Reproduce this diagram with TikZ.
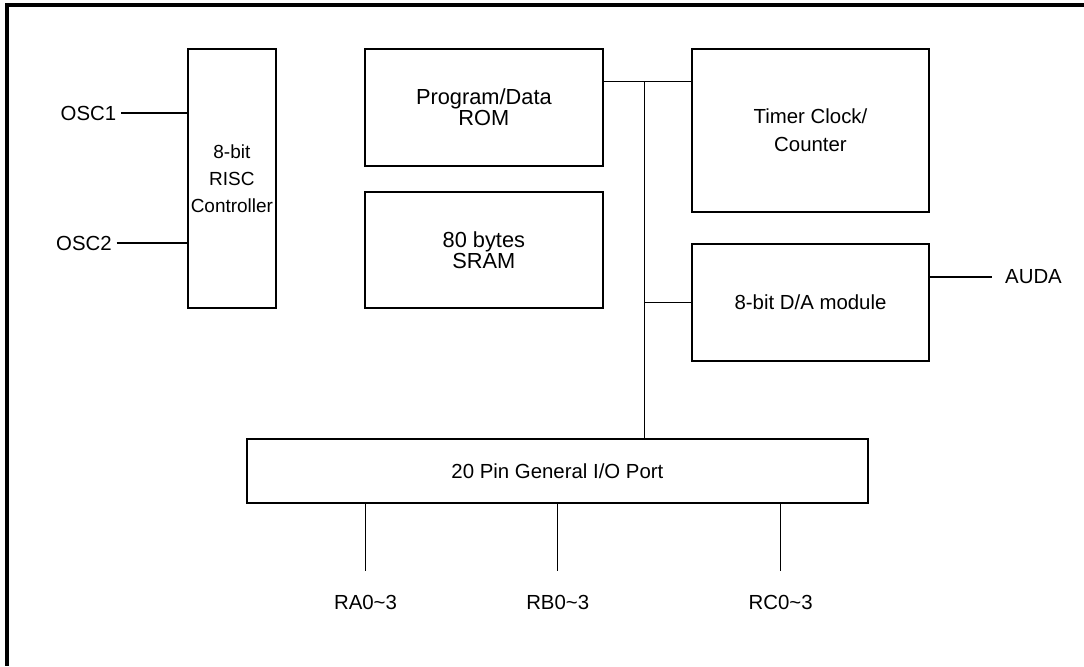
\documentclass[tikz,border=0pt]{standalone}
\usepackage{fontspec}
\setmainfont{Liberation Sans}

\begin{document}
\begin{tikzpicture}[x=0.025cm, y=-0.025cm,
  every node/.style={font=\fontsize{14.5}{14}\selectfont},
  blk/.style={draw, line width=1.5pt, align=center, inner sep=0pt},
  wire/.style={line width=1.1pt}]
  \useasboundingbox (0,0) rectangle (1084,666);
  \draw[line width=2.2pt] (1084,5) -- (7,5) -- (7,666);
  % blocks
  \node[blk, minimum width=2.21cm, minimum height=6.48cm, font=\fontsize{13.5}{19.5}\selectfont] (risc) at (231.9,178.7) {8-bit\\RISC\\Controller};
  \node[blk, minimum width=5.94cm, minimum height=2.92cm, font=\fontsize{15.5}{13.5}\selectfont] (rom) at (483.9,107.5) {Program/Data\\ROM};
  \node[blk, minimum width=5.94cm, minimum height=2.92cm, font=\fontsize{15.5}{13.5}\selectfont] (sram) at (483.9,250) {80 bytes\\SRAM};
  \node[blk, minimum width=5.94cm, minimum height=4.07cm, font=\fontsize{14.5}{20}\selectfont] (timer) at (810.5,130.4) {Timer Clock/\\Counter};
  \node[blk, minimum width=5.94cm, minimum height=2.93cm] (dac) at (810.5,302.4) {8-bit D/A module};
  \node[blk, minimum width=15.53cm, minimum height=1.61cm] (io) at (557.4,471.2) {20 Pin General I/O Port};
  % pins
  \node (osc1) at (88.5,113) {OSC1};
  \node (osc2) at (84,243) {OSC2};
  \node (auda) at (1033.5,277) {AUDA};
  \coordinate (bus) at (644.3,81.5);
  \draw[wire] (osc1) -- (osc1 -| risc.west);
  \draw[wire] (osc2) -- (osc2 -| risc.west);
  \draw[wire] (rom.east |- bus) -- (timer.west |- bus);
  \draw[wire] (bus) -- (bus |- io.north);
  \draw[wire] (bus |- dac.west) -- (dac.west);
  \draw[wire] (dac.east |- auda) -- ([xshift=-0.2cm]auda.west);
  \foreach \n/\x/\t in {ra/365.5/RA0\textasciitilde 3, rb/557.7/RB0\textasciitilde 3, rc/780.7/RC0\textasciitilde 3} {
    \node (\n) at (\x,602) {\t};
    \draw[wire] (\n |- io.south) -- ([yshift=0.47cm]\n.north);
  }
\end{tikzpicture}
\end{document}
